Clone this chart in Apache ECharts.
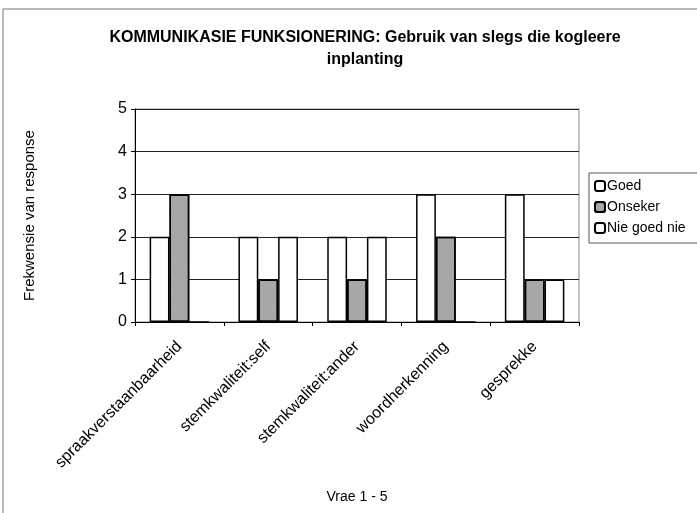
<!DOCTYPE html>
<html>
<head>
<meta charset="utf-8">
<script src="https://cdn.jsdelivr.net/npm/echarts@6/dist/echarts.min.js"></script>
<style>
  html, body { margin: 0; padding: 0; background: #fff; }
  #main { width: 697px; height: 513px; }
</style>
</head>
<body>
<div id="main"></div>
<script>
// vrae
var categories = ['spraakverstaanbaarheid', 'stemkwaliteit:self', 'stemkwaliteit:ander', 'woordherkenning', 'gesprekke'];
// frekwensie per antwoord
var goed = [2, 2, 2, 3, 3];
var onseker = [3, 1, 1, 2, 1];
var nieGoedNie = [0, 2, 2, 0, 1];
var seriesNames = ['Goed', 'Onseker', 'Nie goed nie'];

var chart = echarts.init(document.getElementById('main'));
var font = 'Liberation Sans, Arial, sans-serif';

chart.setOption({
  animation: false,
  backgroundColor: '#fff',
  title: {
    text: 'KOMMUNIKASIE FUNKSIONERING: Gebruik van slegs die kogleere\ninplanting',
    left: 360,
    top: 22,
    textAlign: 'center',
    textStyle: { fontFamily: font, fontSize: 16, fontWeight: 'bold', color: '#000', lineHeight: 22 }
  },
  legend: {
    orient: 'vertical',
    left: 589,
    top: 173,
    data: seriesNames,
    itemWidth: 10,
    itemHeight: 10,
    itemGap: 7,
    padding: [6, 14, 8, 5],
    borderColor: '#555',
    borderWidth: 1,
    textStyle: { fontFamily: font, fontSize: 14, color: '#000', padding: [0, 0, 0, -3] }
  },
  graphic: [{
    type: 'polyline',
    shape: { points: [[3, 513], [3, 9], [697, 9]] },
    style: { stroke: '#777', lineWidth: 1, fill: null }
  }],
  grid: {
    left: 135, right: 118, top: 109, bottom: 191,
    show: true, borderColor: '#888', borderWidth: 1
  },
  xAxis: {
    type: 'category',
    data: categories,
    name: 'Vrae 1 - 5',
    nameLocation: 'middle',
    nameGap: 168,
    nameTextStyle: { fontFamily: font, fontSize: 14, color: '#000' },
    axisLine: { lineStyle: { color: '#000', width: 1 } },
    axisTick: { show: true, length: 4, lineStyle: { color: '#000' } },
    axisLabel: { rotate: 45, fontFamily: font, fontSize: 16, color: '#000', margin: 22, interval: 0 }
  },
  yAxis: {
    type: 'value',
    min: 0, max: 5, interval: 1,
    name: 'Frekwensie van response',
    nameLocation: 'middle',
    nameGap: 98,
    nameRotate: 90,
    nameTextStyle: { fontFamily: font, fontSize: 15, color: '#000' },
    axisLine: { show: true, lineStyle: { color: '#000', width: 1 } },
    axisTick: { show: true, length: 4, lineStyle: { color: '#000' } },
    axisLabel: { fontFamily: font, fontSize: 16, color: '#000', margin: 8 },
    splitLine: { lineStyle: { color: '#222', width: 1 } }
  },
  series: [
    {
      name: seriesNames[0], type: 'bar', data: goed,
      barGap: 0, barCategoryGap: '33%',
      itemStyle: { color: '#fff', borderColor: '#000', borderWidth: 1.5 }
    },
    {
      name: seriesNames[1], type: 'bar', data: onseker,
      barGap: 0, barCategoryGap: '33%',
      itemStyle: {
        color: '#a8a8a8', borderColor: '#000', borderWidth: 1.5,
        decal: { symbol: 'rect', symbolSize: 0.5, color: 'rgba(90,90,90,0.45)', dashArrayX: [1, 2], dashArrayY: [1, 2], rotation: 0.6 }
      }
    },
    {
      name: seriesNames[2], type: 'bar', data: nieGoedNie,
      barGap: 0, barCategoryGap: '33%',
      itemStyle: { color: '#fff', borderColor: '#000', borderWidth: 1.5 }
    }
  ]
});
</script>
</body>
</html>
